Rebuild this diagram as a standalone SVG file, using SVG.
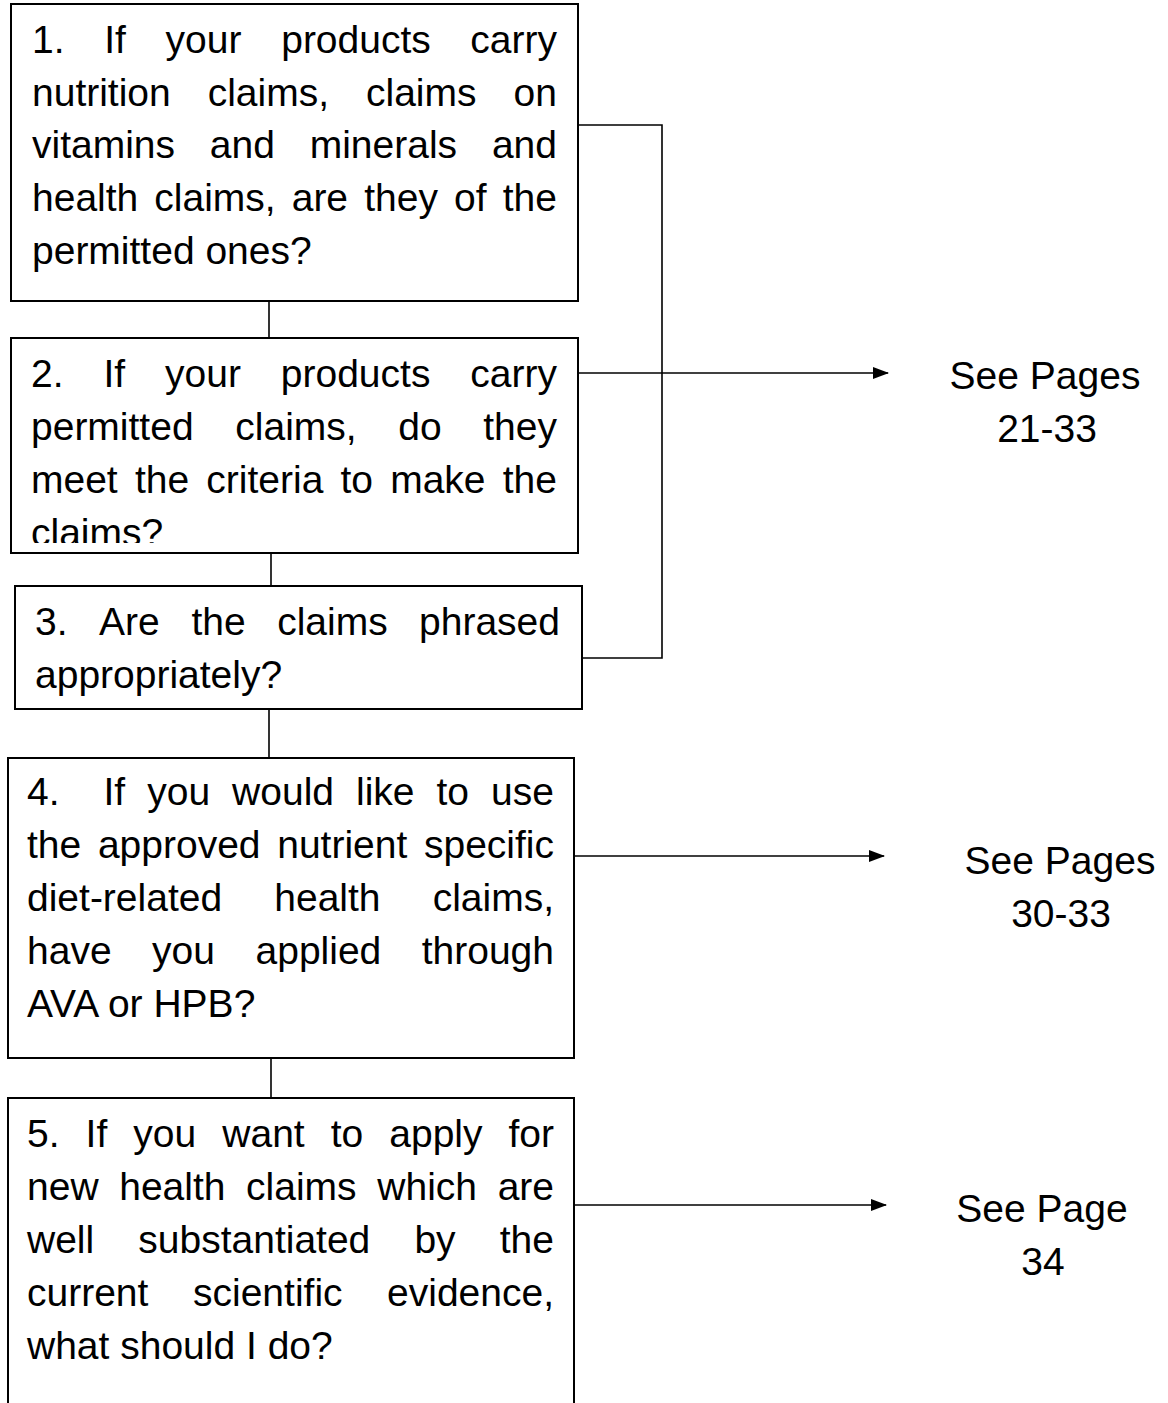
<svg xmlns="http://www.w3.org/2000/svg" width="1168" height="1403" viewBox="0 0 1168 1403">
<style>
.box{fill:#fff;stroke:#000;stroke-width:2}
.ln{fill:none;stroke:#000;stroke-width:1.6}
.t{font-family:"Liberation Sans",Arial,sans-serif;font-size:39px;fill:#000}
.c{text-anchor:middle}
.e{text-anchor:end}
</style>
<defs>
<marker id="ah" markerWidth="16" markerHeight="12" refX="15" refY="6" orient="auto" markerUnits="userSpaceOnUse">
<path d="M0,0 L16,6 L0,12 Z" fill="#000"/>
</marker>
<clipPath id="clip2"><rect x="11" y="338" width="567" height="205"/></clipPath>
</defs>
<rect width="1168" height="1403" fill="#fff"/>

<g id="connectors">
<line class="ln" x1="269" y1="301" x2="269" y2="338"/>
<line class="ln" x1="271" y1="553" x2="271" y2="586"/>
<line class="ln" x1="269" y1="709" x2="269" y2="758"/>
<line class="ln" x1="271" y1="1058" x2="271" y2="1098"/>
<polyline class="ln" points="578,125 662,125 662,658 582,658"/>
<line class="ln" x1="578" y1="373" x2="888" y2="373" marker-end="url(#ah)"/>
<line class="ln" x1="574" y1="856" x2="884" y2="856" marker-end="url(#ah)"/>
<line class="ln" x1="574" y1="1205" x2="886" y2="1205" marker-end="url(#ah)"/>
</g>

<g id="node1">
<rect class="box" x="11" y="4" width="567" height="297"/>
<text class="t" y="53"><tspan x="32">1.</tspan><tspan x="104.2">If</tspan><tspan x="165.6">your</tspan><tspan x="281.2">products</tspan><tspan x="557" class="e">carry</tspan></text>
<text class="t" y="106"><tspan x="32">nutrition</tspan><tspan x="207.7">claims,</tspan><tspan x="366">claims</tspan><tspan x="557" class="e">on</tspan></text>
<text class="t" y="158"><tspan x="32">vitamins</tspan><tspan x="209.8">and</tspan><tspan x="309.7">minerals</tspan><tspan x="557" class="e">and</tspan></text>
<text class="t" y="211"><tspan x="32">health</tspan><tspan x="154.3">claims,</tspan><tspan x="291.7">are</tspan><tspan x="364.2">they</tspan><tspan x="454">of</tspan><tspan x="557" class="e">the</tspan></text>
<text class="t" y="264"><tspan x="32">permitted ones?</tspan></text>
</g>

<g id="node2">
<rect class="box" x="11" y="338" width="567" height="215"/>
<g clip-path="url(#clip2)">
<text class="t" y="387"><tspan x="31">2.</tspan><tspan x="103.4">If</tspan><tspan x="165">your</tspan><tspan x="280.8">products</tspan><tspan x="557" class="e">carry</tspan></text>
<text class="t" y="440"><tspan x="31">permitted</tspan><tspan x="235.3">claims,</tspan><tspan x="398.3">do</tspan><tspan x="557" class="e">they</tspan></text>
<text class="t" y="493"><tspan x="31">meet</tspan><tspan x="134.9">the</tspan><tspan x="206.3">criteria</tspan><tspan x="340.5">to</tspan><tspan x="390.2">make</tspan><tspan x="557" class="e">the</tspan></text>
<text class="t" y="546"><tspan x="31">claims?</tspan></text>
</g>
</g>

<g id="node3">
<rect class="box" x="15" y="586" width="567" height="123"/>
<text class="t" y="635"><tspan x="35">3.</tspan><tspan x="99.1">Are</tspan><tspan x="191.4">the</tspan><tspan x="277.2">claims</tspan><tspan x="560" class="e">phrased</tspan></text>
<text class="t" y="688"><tspan x="35">appropriately?</tspan></text>
</g>

<g id="node4">
<rect class="box" x="8" y="758" width="566" height="300"/>
<text class="t" y="805"><tspan x="27">4.</tspan><tspan x="103.5">If</tspan><tspan x="147.2">you</tspan><tspan x="232.1">would</tspan><tspan x="356">like</tspan><tspan x="436.5">to</tspan><tspan x="554" class="e">use</tspan></text>
<text class="t" y="858"><tspan x="27">the</tspan><tspan x="97.9">approved</tspan><tspan x="277.2">nutrient</tspan><tspan x="554" class="e">specific</tspan></text>
<text class="t" y="911"><tspan x="27">diet-related</tspan><tspan x="274.3">health</tspan><tspan x="554" class="e">claims,</tspan></text>
<text class="t" y="964"><tspan x="27">have</tspan><tspan x="152.1">you</tspan><tspan x="255.5">applied</tspan><tspan x="554" class="e">through</tspan></text>
<text class="t" y="1017"><tspan x="27">AVA or HPB?</tspan></text>
</g>

<g id="node5">
<rect class="box" x="8" y="1098" width="566" height="320"/>
<text class="t" y="1147"><tspan x="27">5.</tspan><tspan x="85.6">If</tspan><tspan x="133.3">you</tspan><tspan x="222.3">want</tspan><tspan x="330.7">to</tspan><tspan x="389.3">apply</tspan><tspan x="554" class="e">for</tspan></text>
<text class="t" y="1200"><tspan x="27">new</tspan><tspan x="119.2">health</tspan><tspan x="246.1">claims</tspan><tspan x="377.3">which</tspan><tspan x="554" class="e">are</tspan></text>
<text class="t" y="1253"><tspan x="27">well</tspan><tspan x="138.3">substantiated</tspan><tspan x="414.4">by</tspan><tspan x="554" class="e">the</tspan></text>
<text class="t" y="1306"><tspan x="27">current</tspan><tspan x="193">scientific</tspan><tspan x="554" class="e">evidence,</tspan></text>
<text class="t" y="1359"><tspan x="27">what should I do?</tspan></text>
</g>

<g id="label1">
<text class="t c" x="1045" y="389">See Pages</text>
<text class="t c" x="1047" y="442">21-33</text>
</g>
<g id="label2">
<text class="t c" x="1060" y="874">See Pages</text>
<text class="t c" x="1061" y="927">30-33</text>
</g>
<g id="label3">
<text class="t c" x="1042" y="1222">See Page</text>
<text class="t c" x="1043" y="1275">34</text>
</g>
</svg>
